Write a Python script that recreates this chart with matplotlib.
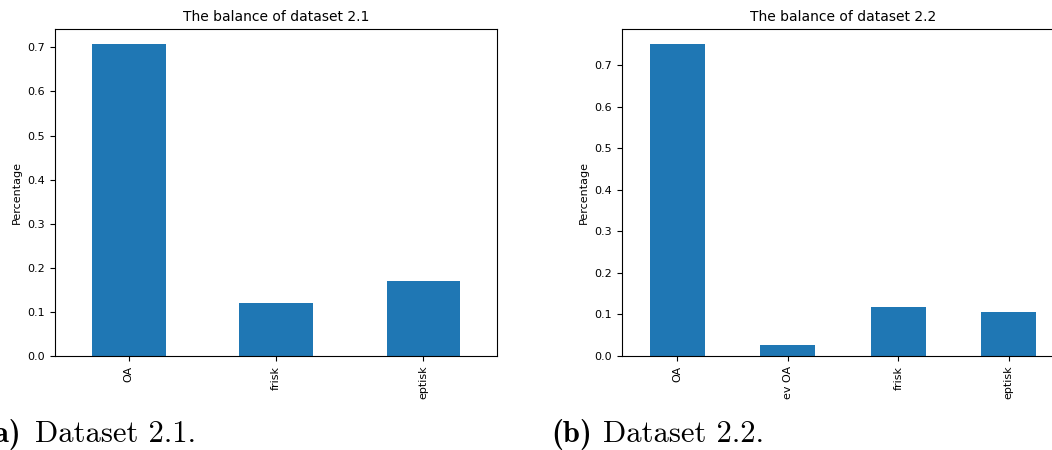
import matplotlib
matplotlib.use("Agg")
import matplotlib.pyplot as plt

# dataset 2.1
labels_21 = ["OA", "frisk", "eptisk"]
values_21 = [0.708, 0.121, 0.171]

# dataset 2.2
labels_22 = ["OA", "ev OA", "frisk", "eptisk"]
values_22 = [0.751, 0.026, 0.1185, 0.106]

W, H = 1052, 450
fig = plt.figure(figsize=(W / 100, H / 100), dpi=100)


def drawBalance(ax, labels, values, title, ytop):
    pos = range(len(labels))
    ax.bar(pos, values, width=0.5, color="#1f77b4")
    ax.set_xlim(-0.5, len(labels) - 0.5)
    ax.set_ylim(0, ytop)
    ax.set_xticks(list(pos))
    ax.set_xticklabels(labels, rotation=90, fontsize=8)
    ax.tick_params(axis="y", labelsize=8)
    ax.set_ylabel("Percentage", fontsize=8)
    ax.set_title(title, fontsize=10)


ax1 = fig.add_axes([55 / W, 94 / H, 442 / W, 327 / H])
drawBalance(ax1, labels_21, values_21, "The balance of dataset 2.1", 0.7415)

ax2 = fig.add_axes([622 / W, 94 / H, 442 / W, 327 / H])
drawBalance(ax2, labels_22, values_22, "The balance of dataset 2.2", 0.787)

# captions under the panels
fig.text(21 / W, 8 / H, "(a)", family="cmb10", fontsize=22, ha="right", va="baseline")
fig.text(35 / W, 8 / H, "Dataset 2.1.", family="cmr10", fontsize=22, ha="left", va="baseline")
fig.text(592 / W, 8 / H, "(b)", family="cmb10", fontsize=22, ha="right", va="baseline")
fig.text(603 / W, 8 / H, "Dataset 2.2.", family="cmr10", fontsize=22, ha="left", va="baseline")

fig.savefig("out.png", dpi=100)
